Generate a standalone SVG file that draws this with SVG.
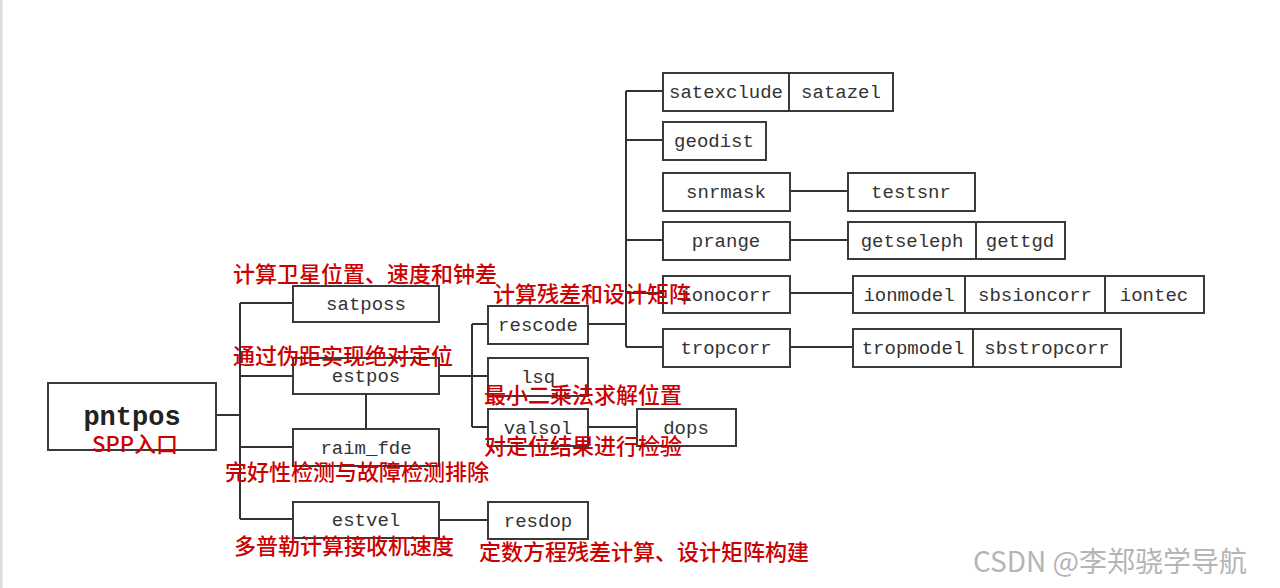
<svg xmlns="http://www.w3.org/2000/svg" width="1280" height="588" viewBox="0 0 1280 588">
<style>
.box{fill:#fff;stroke:#3a3a3a;stroke-width:2}
.div{stroke:#3a3a3a;stroke-width:2}
.t{font-family:"Liberation Mono","DejaVu Sans Mono",monospace;font-size:19px;fill:#333;text-anchor:middle}
.big{font-family:"Liberation Mono","DejaVu Sans Mono",monospace;font-size:27px;font-weight:bold;fill:#222;text-anchor:middle}
.lbl{font-family:"Noto Sans CJK SC","Noto Sans",sans-serif;font-size:22px;font-weight:500;fill:#cc0000}
.c{fill:none;stroke:#333;stroke-width:2}
</style>
<rect x="0" y="0" width="1280" height="588" fill="#fff"/>
<rect x="0" y="0" width="2.5" height="588" fill="#dcdcdc"/>

<g id="connectors">
<path class="c" d="M216 415 H240" stroke-width="3"/>
<path class="c" d="M240 303 V519"/>
<path class="c" d="M240 303 H293 M240 376 H293 M240 447 H293 M240 519 H293"/>
<path class="c" d="M366 394 V429"/>
<path class="c" d="M439 376 H472 M472 324 V427 M472 324 H488 M472 376 H488 M472 427 H488"/>
<path class="c" d="M588 427 H637"/>
<path class="c" d="M439 520 H488"/>
<path class="c" d="M588 324 H626 M626 91 V347 M626 91 H663 M626 140 H663 M626 240 H663 M626 293 H663 M626 347 H663"/>
<path class="c" d="M790 191 H848 M790 240 H848 M790 293 H853 M790 347 H853"/>
</g>

<g id="pntpos"><rect class="box" x="48" y="383" width="168" height="67"/><text class="big" x="132" y="425">pntpos</text></g>
<g id="satposs"><rect class="box" x="293" y="286" width="146" height="36"/><text class="t" x="366" y="310">satposs</text></g>
<g id="estpos"><rect class="box" x="293" y="358" width="146" height="36"/><text class="t" x="366" y="382">estpos</text></g>
<g id="raim_fde"><rect class="box" x="293" y="429" width="146" height="37"/><text class="t" x="366" y="454">raim_fde</text></g>
<g id="estvel"><rect class="box" x="293" y="502" width="146" height="36"/><text class="t" x="366" y="526">estvel</text></g>
<g id="rescode"><rect class="box" x="488" y="306" width="100" height="38"/><text class="t" x="538" y="331">rescode</text></g>
<g id="lsq"><rect class="box" x="488" y="358" width="100" height="38"/><text class="t" x="538" y="383">lsq</text></g>
<g id="valsol"><rect class="box" x="488" y="409" width="100" height="37"/><text class="t" x="538" y="434">valsol</text></g>
<g id="dops"><rect class="box" x="637" y="409" width="99" height="37"/><text class="t" x="686" y="434">dops</text></g>
<g id="resdop"><rect class="box" x="488" y="502" width="100" height="37"/><text class="t" x="538" y="527">resdop</text></g>

<g id="satexclude"><rect class="box" x="663" y="73" width="230" height="38"/><line class="div" x1="789" y1="73" x2="789" y2="111"/><text class="t" x="726" y="98">satexclude</text><text class="t" x="841" y="98">satazel</text></g>
<g id="geodist"><rect class="box" x="663" y="122" width="103" height="38"/><text class="t" x="714" y="147">geodist</text></g>
<g id="snrmask"><rect class="box" x="663" y="173" width="127" height="38"/><text class="t" x="726" y="198">snrmask</text></g>
<g id="prange"><rect class="box" x="663" y="222" width="127" height="38"/><text class="t" x="726" y="247">prange</text></g>
<g id="ionocorr"><rect class="box" x="663" y="276" width="127" height="37"/><text class="t" x="726" y="301">ionocorr</text></g>
<g id="tropcorr"><rect class="box" x="663" y="329" width="127" height="38"/><text class="t" x="726" y="354">tropcorr</text></g>
<g id="testsnr"><rect class="box" x="848" y="173" width="127" height="38"/><text class="t" x="911" y="198">testsnr</text></g>
<g id="getseleph"><rect class="box" x="848" y="222" width="217" height="37"/><line class="div" x1="976" y1="222" x2="976" y2="259"/><text class="t" x="912" y="247">getseleph</text><text class="t" x="1020" y="247">gettgd</text></g>
<g id="ionmodel"><rect class="box" x="853" y="276" width="351" height="37"/><line class="div" x1="965" y1="276" x2="965" y2="313"/><line class="div" x1="1105" y1="276" x2="1105" y2="313"/><text class="t" x="909" y="301">ionmodel</text><text class="t" x="1035" y="301">sbsioncorr</text><text class="t" x="1154" y="301">iontec</text></g>
<g id="tropmodel"><rect class="box" x="853" y="329" width="268" height="38"/><line class="div" x1="973" y1="329" x2="973" y2="367"/><text class="t" x="913" y="354">tropmodel</text><text class="t" x="1047" y="354">sbstropcorr</text></g>

<g id="labels">
<text class="lbl" x="92" y="452" font-size="20">SPP入口</text>
<text class="lbl" x="233" y="282">计算卫星位置、速度和钟差</text>
<text class="lbl" x="233" y="364">通过伪距实现绝对定位</text>
<text class="lbl" x="225" y="480">完好性检测与故障检测排除</text>
<text class="lbl" x="234" y="554">多普勒计算接收机速度</text>
<text class="lbl" x="493" y="302">计算残差和设计矩阵</text>
<text class="lbl" x="484" y="403">最小二乘法求解位置</text>
<text class="lbl" x="484" y="454">对定位结果进行检验</text>
<text class="lbl" x="479" y="560">定数方程残差计算、设计矩阵构建</text>
</g>
<text x="973" y="572" font-family="'Noto Sans CJK SC','Noto Sans',sans-serif" font-size="28" fill="#b5b5b5">CSDN @李郑骁学导航</text>
</svg>
